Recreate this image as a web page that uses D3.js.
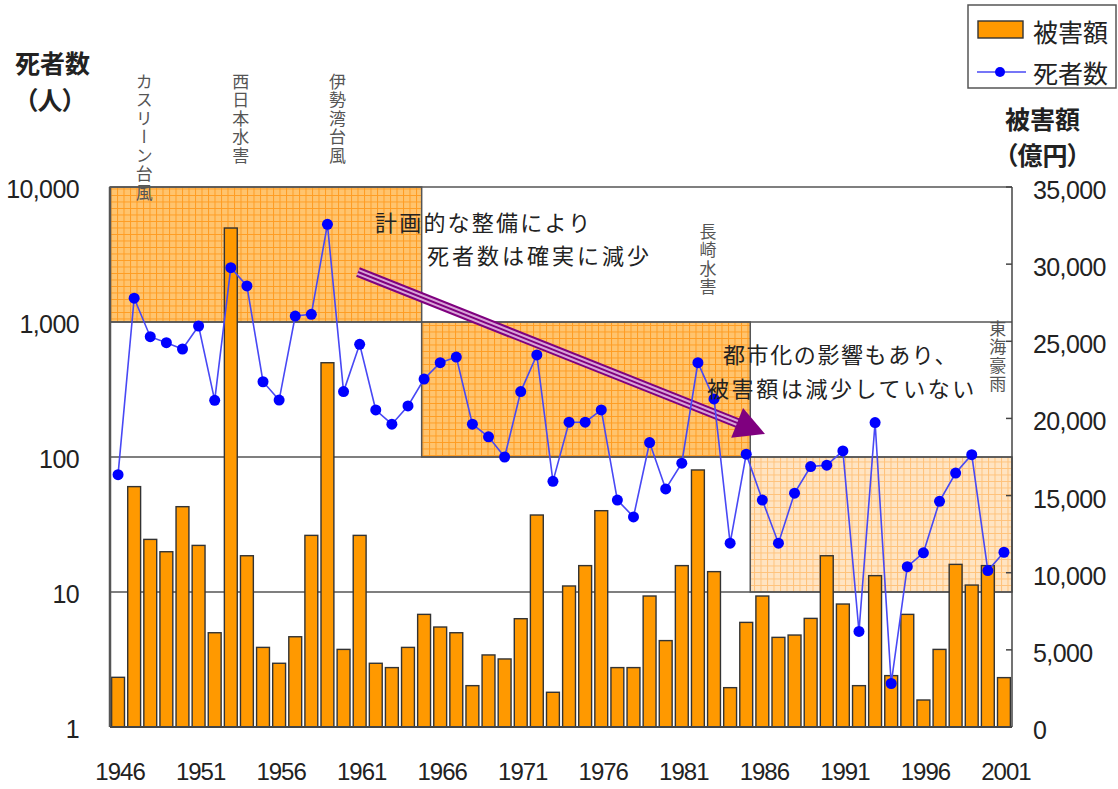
<!DOCTYPE html>
<html><head><meta charset="utf-8">
<script src="https://cdn.jsdelivr.net/npm/d3@7"></script>
<style>
html,body{margin:0;padding:0;background:#fff;}
svg{display:block;}
.jp{font-family:"Noto Sans CJK JP","Noto Sans",sans-serif;}
.num{font-family:"Liberation Sans",Arial,sans-serif;}
</style></head><body>
<svg id="c" width="1118" height="789"></svg>
<script>
// ---- data ----
const years = [1946,1947,1948,1949,1950,1951,1952,1953,1954,1955,1956,1957,1958,1959,1960,1961,1962,1963,1964,1965,
  1966,1967,1968,1969,1970,1971,1972,1973,1974,1975,1976,1977,1978,1979,1980,1981,1982,1983,1984,1985,
  1986,1987,1988,1989,1990,1991,1992,1993,1994,1995,1996,1997,1998,1999,2000,2001];
const deaths = [74,1500,778,703,631,934,263,2525,1849,361,264,1107,1140,5290,305,684,223,175,239,378,
  500,550,175,141,100,305,570,66,181,181,223,48,36,128,58,90,500,269,23,105,
  48,23,54,85,87,111,5.1,180,2.1,15.4,19.5,47,76,104,14.4,19.7];
const damage = [3220,15580,12160,11360,14280,11770,6110,32340,11100,5160,4130,5850,12420,23610,5030,12420,4130,3850,5160,7300,
  6480,6110,2680,4670,4410,7020,13740,2250,9140,10460,14020,3850,3850,8490,5600,10460,16660,10070,2550,6780,
  8490,5810,5960,7040,11100,7970,2680,9810,3330,7300,1750,5030,10540,9200,10460,3200];
const xTickYears = [1946,1951,1956,1961,1966,1971,1976,1981,1986,1991,1996,2001];
const leftTicks = [1,10,100,1000,10000];
const rightTicks = [0,5000,10000,15000,20000,25000,30000,35000];
// periods (year span, death range)
const periodFrom = [null, 1964.85, 1985.25];
const periodTo   = [1964.85, 1985.25, null];
const periodLow  = [1000, 100, 10];
const periodHigh = [10000, 1000, 100];
const eventNames = ["カスリーン台風","西日本水害","伊勢湾台風","長崎水害","東海豪雨"];
const eventYears = [1947,1953,1959,1982,2000];
const legendNames = ["被害額","死者数"];

// ---- layout ----
const L = 110, R = 1012, T = 187, B = 727;
const svg = d3.select("#c");
svg.append("rect").attr("width",1118).attr("height",789).attr("fill","#fff");

const x = d3.scaleBand().domain(years).range([L,R]).paddingInner(0.2).paddingOuter(0.1);
const bw = x.bandwidth();
const cx = d => x(d) + bw/2;
const xYear = d3.scaleLinear().domain([1946,2001]).range([cx(1946), cx(2001)]);
const yL = d3.scaleLog().domain([1,10000]).range([B,T]);
const yR = d3.scaleLinear().domain([0,35000]).range([B,T]);

// patterns
const defs = svg.append("defs");
function pat(id, bg, line, s){
  const p = defs.append("pattern").attr("id",id).attr("patternUnits","userSpaceOnUse")
    .attr("width",s).attr("height",s);
  p.append("rect").attr("width",s).attr("height",s).attr("fill",bg);
  p.append("path").attr("d",`M0,0.5H${s}M0.5,0V${s}`).attr("stroke",line).attr("stroke-width",1).attr("fill","none");
}
pat("gA","#FFC46E","#FF9C22",6.5);
pat("gB","#FFE4C2","#FFC27A",6.5);

// period boxes
periodFrom.forEach((f,i)=>{
  const x0 = f===null ? L : xYear(f);
  const x1 = periodTo[i]===null ? R : xYear(periodTo[i]);
  svg.append("rect").attr("x",x0).attr("y",yL(periodHigh[i])).attr("width",x1-x0)
    .attr("height",yL(periodLow[i])-yL(periodHigh[i]))
    .attr("fill", i<2 ? "url(#gA)" : "url(#gB)")
    .attr("stroke","#555").attr("stroke-width",1.5);
});

// gridlines
svg.append("g").selectAll("line").data([10,100,1000,10000]).join("line")
  .attr("x1",L).attr("x2",R).attr("y1",d=>yL(d)).attr("y2",d=>yL(d))
  .attr("stroke","#555").attr("stroke-width",1.5);

// arrow
const a0=[358,272], tip=[765,434];
const dx=tip[0]-a0[0], dy=tip[1]-a0[1], len=Math.hypot(dx,dy);
const ux=dx/len, uy=dy/len, nx=-uy, ny=ux;
const bc=[tip[0]-30*ux, tip[1]-30*uy];
const ag = svg.append("g");
[[10,"#7F007F"],[6,"#D8A4D8"],[2,"#7F007F"]].forEach(([w,c])=>{
  ag.append("line").attr("x1",a0[0]).attr("y1",a0[1]).attr("x2",bc[0]+2*ux).attr("y2",bc[1]+2*uy)
    .attr("stroke",c).attr("stroke-width",w);
});
ag.append("path").attr("d",`M${tip[0]},${tip[1]}L${bc[0]+16*nx},${bc[1]+16*ny}L${bc[0]-16*nx},${bc[1]-16*ny}Z`)
  .attr("fill","#7F007F");

// bars
svg.append("g").selectAll("rect").data(years).join("rect")
  .attr("x",d=>x(d)).attr("width",bw)
  .attr("y",(d,i)=>yR(damage[i])).attr("height",(d,i)=>B-yR(damage[i]))
  .attr("fill","#FF9900").attr("stroke","#333").attr("stroke-width",1.4);

// line
const line = d3.line().x((d,i)=>cx(years[i])).y(d=>yL(d));
svg.append("path").datum(deaths).attr("d",line).attr("fill","none")
  .attr("stroke","#4848F5").attr("stroke-width",1.6);
svg.append("g").selectAll("circle").data(deaths).join("circle")
  .attr("cx",(d,i)=>cx(years[i])).attr("cy",d=>yL(d)).attr("r",5.5).attr("fill","#0000FF");

// axes lines
svg.append("line").attr("x1",L).attr("x2",L).attr("y1",T).attr("y2",B).attr("stroke","#555").attr("stroke-width",2.5);
svg.append("line").attr("x1",L).attr("x2",R).attr("y1",B).attr("y2",B).attr("stroke","#444").attr("stroke-width",2);
svg.append("line").attr("x1",R).attr("x2",R).attr("y1",T).attr("y2",B).attr("stroke","#444").attr("stroke-width",1.5);
svg.append("g").selectAll("line").data(rightTicks).join("line")
  .attr("x1",R-6).attr("x2",R).attr("y1",d=>yR(d)).attr("y2",d=>yR(d)).attr("stroke","#444").attr("stroke-width",1.5);

// tick labels
const fmt = d3.format(",");
svg.append("g").selectAll("text").data(leftTicks).join("text")
  .attr("class","num").attr("x",79).attr("y",d=>yL(d)+2).attr("text-anchor","end")
  .attr("dominant-baseline","central").attr("font-size",25).attr("letter-spacing",-0.6)
  .attr("fill","#222").text(d=>fmt(d));
svg.append("g").selectAll("text").data(rightTicks).join("text")
  .attr("class","num").attr("x",1033).attr("y",d=>yR(d)+3).attr("text-anchor","start")
  .attr("dominant-baseline","central").attr("font-size",25).attr("letter-spacing",-0.6)
  .attr("fill","#222").text(d=>fmt(d));
svg.append("g").selectAll("text").data(xTickYears).join("text")
  .attr("class","num").attr("x",d=>cx(d)+2).attr("y",780).attr("text-anchor","middle")
  .attr("font-size",24).attr("letter-spacing",-1).attr("fill","#222").text(d=>d);

// axis titles
function jt(t,xx,yy,size,opts={}){
  const e = svg.append("text").attr("class","jp").attr("x",xx).attr("y",yy)
    .attr("dominant-baseline","central").attr("font-size",size).attr("fill",opts.fill||"#222")
    .attr("text-anchor",opts.anchor||"start").text(t);
  if(opts.weight) e.attr("font-weight",opts.weight);
  if(opts.palt) e.style("font-feature-settings","'palt'");
  if(opts.ls!==undefined) e.attr("letter-spacing",opts.ls);
  return e;
}
jt("死者数",15,62,25,{weight:"bold"});
jt("（人）",25,99,25,{weight:"bold",palt:true});
jt("被害額",1005,118,25,{weight:"bold"});
jt("（億円）",1005,154,25,{weight:"bold",palt:true});

// annotations
jt("計画的な整備により",375,221,22,{ls:2.2});
jt("死者数は確実に減少",427,254,22,{ls:3});
jt("都市化の影響もあり、",723,353,22,{ls:1.6});
jt("被害額は減少していない",707,387,22,{ls:2.6});

// event labels (vertical)
const eventTop = [73,73,73,223,320];
eventNames.forEach((n,i)=>{
  svg.append("text").attr("class","jp").attr("x",cx(eventYears[i])+10).attr("y",eventTop[i])
    .attr("font-size",17).attr("fill","#555").attr("letter-spacing",1.5)
    .style("writing-mode","vertical-rl").style("text-orientation","upright")
    .text(n);
});

// legend
const lg = svg.append("g");
lg.append("rect").attr("x",968).attr("y",5).attr("width",148).attr("height",83)
  .attr("fill","#fff").attr("stroke","#555").attr("stroke-width",1.5);
lg.append("rect").attr("x",978).attr("y",21).attr("width",45).attr("height",17)
  .attr("fill","#FF9900").attr("stroke","#333").attr("stroke-width",1.4);
lg.append("line").attr("x1",977).attr("x2",1026).attr("y1",72).attr("y2",72).attr("stroke","#4848F5").attr("stroke-width",1.6);
lg.append("circle").attr("cx",1000).attr("cy",72).attr("r",5).attr("fill","#0000FF");
jt(legendNames[0],1033,31,25);
jt(legendNames[1],1033,72,25);
</script>
</body></html>
